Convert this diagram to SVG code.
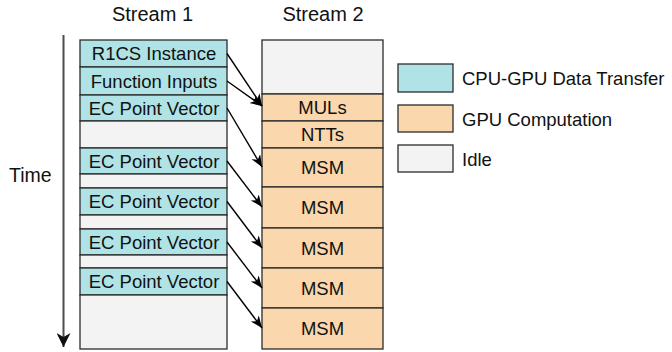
<svg xmlns="http://www.w3.org/2000/svg" width="672" height="352" viewBox="0 0 672 352">
<defs>
<style>
text{font-family:"Liberation Sans",Arial,Helvetica,sans-serif;fill:#111;}
.t{font-size:18.5px;text-anchor:middle;}
.h{font-size:20px;text-anchor:middle;}
.l{font-size:18.5px;}
.cpu{fill:#b0e3e6;stroke:#2b2b2b;stroke-width:1.3;}
.gpu{fill:#fad7ac;stroke:#2b2b2b;stroke-width:1.3;}
.idle{fill:#f3f3f3;stroke:#2b2b2b;stroke-width:1.3;}
.conn{stroke:#000;stroke-width:1.4;fill:none;marker-end:url(#ah);}
</style>
<marker id="ah" markerUnits="userSpaceOnUse" markerWidth="14" markerHeight="12" refX="12" refY="5" orient="auto">
<path d="M0,0 L12,5 L0,10 L3.5,5 z" fill="#000"/>
</marker>
<marker id="ta" markerUnits="userSpaceOnUse" markerWidth="14" markerHeight="16" refX="7" refY="14" orient="0">
<path d="M0,0 L7,14 L14,0 L7,4 z" fill="#111"/>
</marker>
</defs>

<g id="headers">
<text class="h" x="152.5" y="21">Stream 1</text>
<text class="h" x="323" y="21">Stream 2</text>
</g>

<g id="time-axis">
<line x1="63.5" y1="35" x2="63.5" y2="347" stroke="#4d4d4d" stroke-width="2" marker-end="url(#ta)"/>
<text x="9" y="182" style="font-size:19.5px">Time</text>
</g>

<g id="stream1">
<g id="s1-r1cs"><rect class="cpu" x="80" y="40" width="147" height="27"/><text class="t" x="154" y="60">R1CS Instance</text></g>
<g id="s1-fi"><rect class="cpu" x="80" y="67" width="147" height="28"/><text class="t" x="154" y="87.5">Function Inputs</text></g>
<g id="s1-ec1"><rect class="cpu" x="80" y="95" width="147" height="26"/><text class="t" x="154" y="114.5">EC Point Vector</text></g>
<g id="s1-idle1"><rect class="idle" x="80" y="121" width="147" height="27"/></g>
<g id="s1-ec2"><rect class="cpu" x="80" y="148" width="147" height="26"/><text class="t" x="154" y="167.5">EC Point Vector</text></g>
<g id="s1-idle2"><rect class="idle" x="80" y="174" width="147" height="14"/></g>
<g id="s1-ec3"><rect class="cpu" x="80" y="188" width="147" height="27"/><text class="t" x="154" y="208">EC Point Vector</text></g>
<g id="s1-idle3"><rect class="idle" x="80" y="215" width="147" height="14"/></g>
<g id="s1-ec4"><rect class="cpu" x="80" y="229" width="147" height="26"/><text class="t" x="154" y="248.5">EC Point Vector</text></g>
<g id="s1-idle4"><rect class="idle" x="80" y="255" width="147" height="13"/></g>
<g id="s1-ec5"><rect class="cpu" x="80" y="268" width="147" height="27"/><text class="t" x="154" y="288">EC Point Vector</text></g>
<g id="s1-idle5"><rect class="idle" x="80" y="295" width="147" height="54"/></g>
</g>

<g id="stream2">
<g id="s2-idle"><rect class="idle" x="262" y="40" width="121" height="54"/></g>
<g id="s2-muls"><rect class="gpu" x="262" y="94" width="121" height="27"/><text class="t" x="322.5" y="114">MULs</text></g>
<g id="s2-ntts"><rect class="gpu" x="262" y="121" width="121" height="27"/><text class="t" x="322.5" y="141">NTTs</text></g>
<g id="s2-msm1"><rect class="gpu" x="262" y="148" width="121" height="39"/><text class="t" x="322.5" y="174">MSM</text></g>
<g id="s2-msm2"><rect class="gpu" x="262" y="187" width="121" height="41"/><text class="t" x="322.5" y="214">MSM</text></g>
<g id="s2-msm3"><rect class="gpu" x="262" y="228" width="121" height="40"/><text class="t" x="322.5" y="254.5">MSM</text></g>
<g id="s2-msm4"><rect class="gpu" x="262" y="268" width="121" height="40"/><text class="t" x="322.5" y="294.5">MSM</text></g>
<g id="s2-msm5"><rect class="gpu" x="262" y="308" width="121" height="41"/><text class="t" x="322.5" y="335">MSM</text></g>
</g>

<g id="connectors">
<line class="conn" x1="227" y1="53.5" x2="262" y2="106"/>
<line class="conn" x1="227" y1="81" x2="262" y2="106"/>
<line class="conn" x1="227" y1="108" x2="262" y2="167"/>
<line class="conn" x1="227" y1="161" x2="262" y2="207"/>
<line class="conn" x1="227" y1="201.5" x2="262" y2="248"/>
<line class="conn" x1="227" y1="242" x2="262" y2="288"/>
<line class="conn" x1="227" y1="281.5" x2="262" y2="328"/>
</g>

<g id="legend">
<g id="lg-cpu"><rect class="cpu" x="398" y="64" width="55" height="28"/><text class="l" x="462" y="85">CPU-GPU Data Transfer</text></g>
<g id="lg-gpu"><rect class="gpu" x="398" y="105" width="55" height="27"/><text class="l" x="462" y="125.5">GPU Computation</text></g>
<g id="lg-idle"><rect class="idle" x="398" y="145" width="55" height="27"/><text class="l" x="462" y="165.5">Idle</text></g>
</g>
</svg>
